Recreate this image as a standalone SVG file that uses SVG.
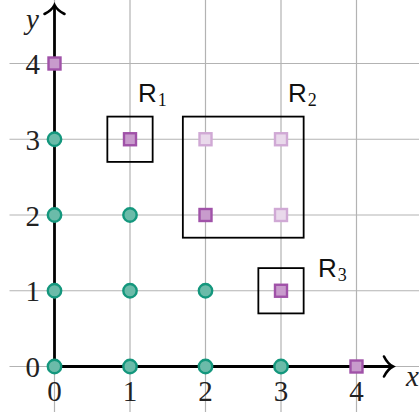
<svg xmlns="http://www.w3.org/2000/svg" width="419" height="412" viewBox="0 0 419 412">
<style>
.grid line{stroke:#b3b3b3;stroke-width:1.2}
.axis{stroke:#000;stroke-width:2.8;fill:none}
.box{stroke:#000;stroke-width:1.8;fill:none}
.circ{fill:#6bbba9;stroke:#14977d;stroke-width:2.4}
.sq{fill:#c89bcc;stroke:#a052a8;stroke-width:2.4}
.sql{fill:#e9d9eb;stroke:#d0a9d5;stroke-width:2.4}
.tick{font-family:"Liberation Serif","DejaVu Serif",serif;font-size:29px;fill:#222}
.var{font-family:"Liberation Serif","DejaVu Serif",serif;font-size:29px;font-style:italic;fill:#222}
.rl{font-family:"Liberation Sans","DejaVu Sans",sans-serif;font-size:26px;fill:#111}
.sub{font-family:"Liberation Serif","DejaVu Serif",serif;font-size:18px}
</style>
<defs>
<marker id="arr" markerUnits="userSpaceOnUse" markerWidth="24" markerHeight="24" viewBox="-12 -12 24 24" refX="0" refY="0" orient="auto" overflow="visible">
<path d="M -9,-10 C -6,-4 -2,-1 0,0 C -2,1 -6,4 -9,10" fill="none" stroke="#000" stroke-width="2.6" stroke-linecap="round"/>
</marker>
</defs>
<rect width="419" height="412" fill="#fff"/>
<g class="grid">
<line x1="54.5" y1="0" x2="54.5" y2="412"/>
<line x1="130" y1="0" x2="130" y2="412"/>
<line x1="205.5" y1="0" x2="205.5" y2="412"/>
<line x1="281" y1="0" x2="281" y2="412"/>
<line x1="356.5" y1="0" x2="356.5" y2="412"/>
<line x1="9.5" y1="366.5" x2="419" y2="366.5"/>
<line x1="9.5" y1="290.75" x2="419" y2="290.75"/>
<line x1="9.5" y1="215" x2="419" y2="215"/>
<line x1="9.5" y1="139.25" x2="419" y2="139.25"/>
<line x1="9.5" y1="63.5" x2="419" y2="63.5"/>
</g>
<g id="axes">
<line class="axis" x1="54.5" y1="366.5" x2="393" y2="366.5" marker-end="url(#arr)"/>
<line class="axis" x1="54.5" y1="366.5" x2="54.5" y2="5" marker-end="url(#arr)"/>
<text class="var" x="406" y="386">x</text>
<text class="var" x="26" y="29">y</text>
</g>
<g id="ticks">
<text class="tick" x="54.5" y="401" text-anchor="middle">0</text>
<text class="tick" x="130" y="401" text-anchor="middle">1</text>
<text class="tick" x="205.5" y="401" text-anchor="middle">2</text>
<text class="tick" x="281" y="401" text-anchor="middle">3</text>
<text class="tick" x="356.5" y="401" text-anchor="middle">4</text>
<text class="tick" x="40" y="377" text-anchor="end">0</text>
<text class="tick" x="40" y="301.25" text-anchor="end">1</text>
<text class="tick" x="40" y="225.5" text-anchor="end">2</text>
<text class="tick" x="40" y="149.75" text-anchor="end">3</text>
<text class="tick" x="40" y="74" text-anchor="end">4</text>
</g>
<g id="R1">
<rect class="box" x="107.35" y="116.6" width="45.3" height="45.3"/>
<text class="rl" x="138" y="101.5">R<tspan class="sub" dx="1" dy="4">1</tspan></text>
</g>
<g id="R2">
<rect class="box" x="182.85" y="116.6" width="120.8" height="121.1"/>
<text class="rl" x="288" y="101.5">R<tspan class="sub" dx="1" dy="4">2</tspan></text>
</g>
<g id="R3">
<rect class="box" x="258.35" y="268.1" width="45.3" height="45.3"/>
<text class="rl" x="318" y="276.7">R<tspan class="sub" dx="1" dy="4">3</tspan></text>
</g>
<g id="points">
<circle class="circ" cx="54.5" cy="366.5" r="6.7"/>
<circle class="circ" cx="130" cy="366.5" r="6.7"/>
<circle class="circ" cx="205.5" cy="366.5" r="6.7"/>
<circle class="circ" cx="281" cy="366.5" r="6.7"/>
<circle class="circ" cx="54.5" cy="290.75" r="6.7"/>
<circle class="circ" cx="130" cy="290.75" r="6.7"/>
<circle class="circ" cx="205.5" cy="290.75" r="6.7"/>
<circle class="circ" cx="54.5" cy="215" r="6.7"/>
<circle class="circ" cx="130" cy="215" r="6.7"/>
<circle class="circ" cx="54.5" cy="139.25" r="6.7"/>
<rect class="sq" x="48.5" y="57.5" width="12" height="12"/>
<rect class="sq" x="124" y="133.25" width="12" height="12"/>
<rect class="sql" x="199.5" y="133.25" width="12" height="12"/>
<rect class="sql" x="275" y="133.25" width="12" height="12"/>
<rect class="sq" x="199.5" y="209" width="12" height="12"/>
<rect class="sql" x="275" y="209" width="12" height="12"/>
<rect class="sq" x="275" y="284.75" width="12" height="12"/>
<rect class="sq" x="350.5" y="360.5" width="12" height="12"/>
</g>
</svg>
